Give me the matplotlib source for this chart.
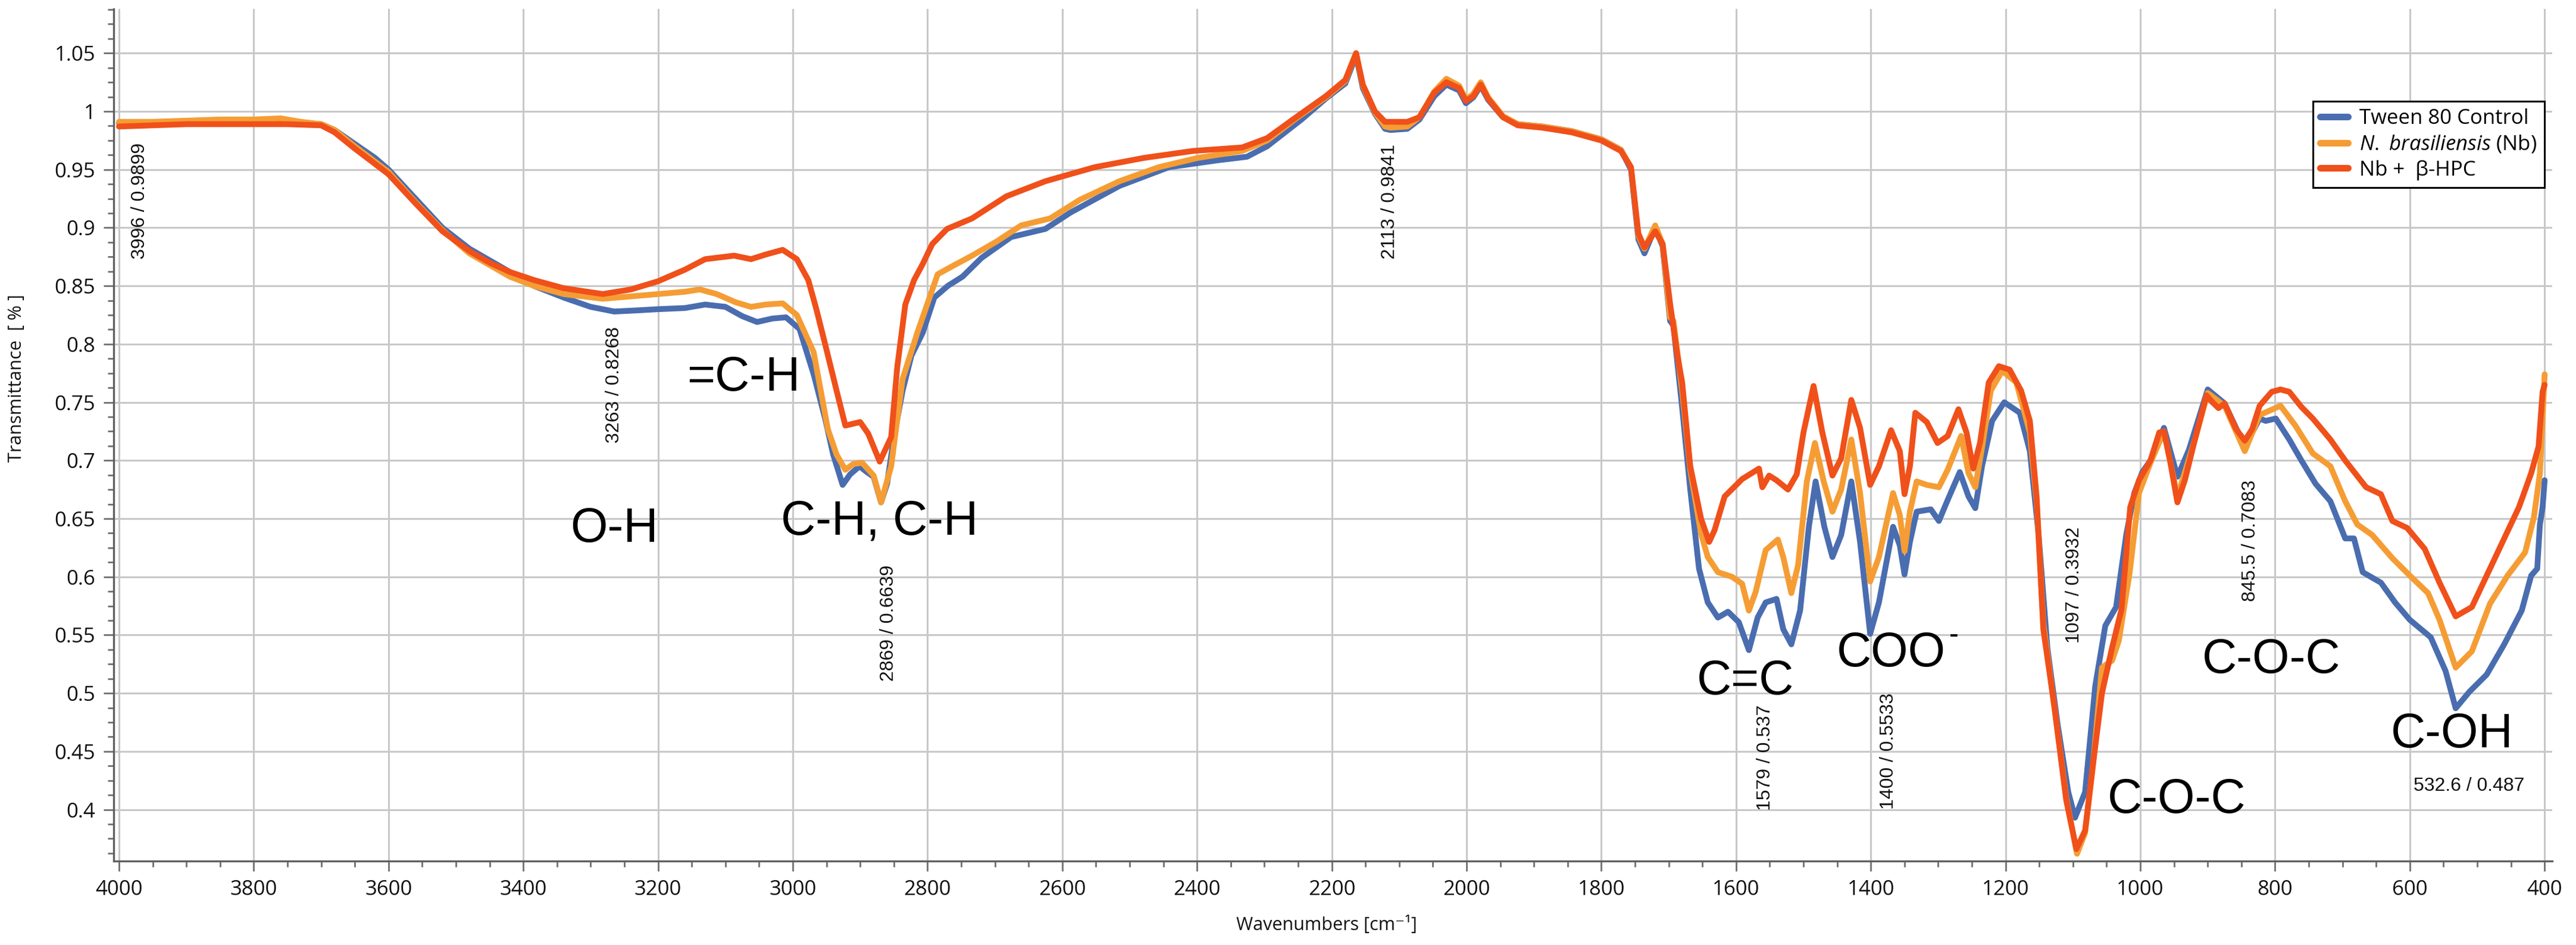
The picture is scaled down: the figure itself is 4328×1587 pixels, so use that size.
import matplotlib
matplotlib.use("Agg")
import matplotlib.pyplot as plt
from matplotlib.ticker import MultipleLocator, FuncFormatter

plt.rcParams['font.family'] = ['Open Sans', 'DejaVu Sans']
plt.rcParams['mathtext.fontset'] = 'custom'
plt.rcParams['mathtext.rm'] = 'Open Sans'
plt.rcParams['mathtext.it'] = 'Open Sans:italic'

# --- data (wavenumber cm-1, transmittance) ---
wn_ctrl = [4000, 3950, 3900, 3850, 3800, 3750, 3700, 3680, 3650, 3620, 3600, 3560, 3520, 3480,
           3450, 3420, 3384, 3340, 3300, 3265, 3230, 3200, 3160, 3130, 3100, 3075, 3053, 3030,
           3010, 2990, 2969, 2952, 2940, 2926, 2915, 2901, 2890, 2880, 2869, 2860, 2850, 2837,
           2824, 2807, 2790, 2770, 2748, 2720, 2676, 2625, 2588, 2515, 2442, 2369, 2326, 2296,
           2245, 2209, 2180, 2164, 2154, 2136, 2121, 2113, 2088, 2070, 2048, 2030, 2011, 2001,
           1990, 1979, 1968, 1946, 1924, 1888, 1844, 1800, 1771, 1756, 1745, 1736, 1720, 1709,
           1698, 1693, 1680, 1668, 1655, 1642, 1627, 1612, 1596, 1581, 1568, 1556, 1540, 1530,
           1518, 1505, 1492, 1482, 1469, 1457, 1444, 1429, 1416, 1401, 1388, 1367, 1357, 1350,
           1342, 1332, 1311, 1299, 1286, 1268, 1255, 1245, 1235, 1220, 1202, 1179, 1164, 1151,
           1138, 1123, 1107, 1097, 1082, 1067, 1052, 1036, 1021, 1009, 997, 985, 965, 945, 928,
           900, 875, 845, 823, 814, 799, 779, 761, 740, 718, 696, 683, 670, 643, 622, 600, 569,
           547, 532, 512, 486, 460, 434, 420, 411, 407, 403, 400]
t_ctrl = [0.990, 0.990, 0.991, 0.992, 0.992, 0.991, 0.989, 0.984, 0.972, 0.960, 0.950, 0.925,
          0.900, 0.882, 0.872, 0.862, 0.850, 0.840, 0.832, 0.828, 0.829, 0.830, 0.831, 0.834,
          0.832, 0.824, 0.819, 0.822, 0.823, 0.813, 0.774, 0.736, 0.705, 0.679, 0.688, 0.695,
          0.690, 0.686, 0.664, 0.680, 0.720, 0.760, 0.790, 0.810, 0.840, 0.850, 0.858, 0.874,
          0.892, 0.899, 0.913, 0.936, 0.952, 0.958, 0.961, 0.970, 0.993, 1.011, 1.024, 1.048,
          1.020, 0.998, 0.985, 0.984, 0.985, 0.993, 1.013, 1.023, 1.018, 1.007, 1.012, 1.022,
          1.010, 0.995, 0.989, 0.987, 0.983, 0.976, 0.967, 0.950, 0.890, 0.878, 0.900, 0.884,
          0.820, 0.816, 0.745, 0.675, 0.607, 0.578, 0.565, 0.570, 0.561, 0.537, 0.565, 0.578,
          0.581, 0.555, 0.542, 0.571, 0.643, 0.682, 0.643, 0.617, 0.636, 0.682, 0.630, 0.551,
          0.578, 0.643, 0.627, 0.602, 0.630, 0.656, 0.658, 0.648, 0.666, 0.690, 0.669, 0.659,
          0.695, 0.734, 0.750, 0.741, 0.708, 0.636, 0.539, 0.474, 0.415, 0.393, 0.415, 0.506,
          0.558, 0.574, 0.636, 0.672, 0.690, 0.700, 0.728, 0.686, 0.709, 0.761, 0.749, 0.712,
          0.736, 0.734, 0.736, 0.718, 0.700, 0.680, 0.665, 0.633, 0.633, 0.604, 0.595, 0.578,
          0.563, 0.548, 0.519, 0.487, 0.501, 0.516, 0.542, 0.571, 0.601, 0.607, 0.645, 0.660,
          0.683]

wn_nb = [4000, 3950, 3900, 3850, 3800, 3760, 3730, 3700, 3680, 3650, 3600, 3560, 3520, 3480,
         3450, 3420, 3384, 3340, 3282, 3240, 3200, 3160, 3138, 3113, 3085, 3062, 3040, 3015,
         2994, 2969, 2948, 2935, 2922, 2910, 2897, 2880, 2869, 2854, 2837, 2815, 2800, 2785,
         2763, 2734, 2698, 2661, 2618, 2574, 2515, 2457, 2399, 2333, 2296, 2253, 2209, 2180,
         2164, 2154, 2136, 2121, 2113, 2088, 2070, 2048, 2030, 2011, 2001, 1990, 1979, 1968,
         1946, 1924, 1888, 1844, 1800, 1771, 1756, 1745, 1736, 1720, 1709, 1698, 1693, 1680,
         1668, 1652, 1642, 1627, 1606, 1591, 1581, 1571, 1556, 1538, 1530, 1518, 1508, 1495,
         1483, 1470, 1457, 1444, 1429, 1416, 1401, 1388, 1367, 1357, 1350, 1342, 1332, 1317,
         1299, 1286, 1266, 1255, 1245, 1235, 1222, 1205, 1184, 1164, 1154, 1144, 1128, 1110,
         1094, 1082, 1070, 1057, 1042, 1032, 1016, 1002, 985, 965, 945, 919, 900, 875, 845, 823,
         792, 770, 744, 718, 696, 678, 656, 626, 600, 573, 556, 532, 508, 481, 455, 429, 416,
         407, 400]
t_nb = [0.991, 0.991, 0.992, 0.993, 0.993, 0.994, 0.991, 0.989, 0.984, 0.970, 0.948, 0.922,
        0.898, 0.878, 0.868, 0.858, 0.850, 0.843, 0.839, 0.841, 0.843, 0.845, 0.847, 0.843,
        0.836, 0.832, 0.834, 0.835, 0.825, 0.793, 0.727, 0.705, 0.692, 0.697, 0.698, 0.687,
        0.664, 0.695, 0.770, 0.810, 0.835, 0.860, 0.867, 0.876, 0.888, 0.902, 0.908, 0.924,
        0.940, 0.952, 0.960, 0.966, 0.975, 0.994, 1.012, 1.026, 1.050, 1.022, 0.999, 0.987,
        0.986, 0.987, 0.995, 1.017, 1.028, 1.022, 1.010, 1.015, 1.025, 1.012, 0.996, 0.989,
        0.987, 0.983, 0.976, 0.967, 0.952, 0.893, 0.882, 0.902, 0.886, 0.823, 0.820, 0.760,
        0.692, 0.637, 0.617, 0.604, 0.600, 0.594, 0.571, 0.587, 0.623, 0.632, 0.617, 0.586,
        0.610, 0.682, 0.715, 0.682, 0.656, 0.675, 0.718, 0.672, 0.596, 0.617, 0.672, 0.653,
        0.622, 0.656, 0.682, 0.679, 0.677, 0.692, 0.721, 0.689, 0.677, 0.711, 0.760, 0.777,
        0.767, 0.724, 0.665, 0.560, 0.490, 0.410, 0.362, 0.380, 0.440, 0.522, 0.528, 0.545,
        0.603, 0.672, 0.698, 0.725, 0.669, 0.718, 0.758, 0.747, 0.708, 0.739, 0.747, 0.730,
        0.706, 0.695, 0.665, 0.645, 0.636, 0.616, 0.601, 0.586, 0.563, 0.522, 0.536, 0.577,
        0.601, 0.621, 0.651, 0.689, 0.774]

wn_hpc = [4000, 3950, 3900, 3850, 3800, 3750, 3700, 3680, 3650, 3600, 3560, 3520, 3480, 3450,
          3420, 3384, 3340, 3282, 3240, 3200, 3160, 3130, 3087, 3062, 3040, 3015, 2994, 2977,
          2965, 2952, 2935, 2922, 2900, 2888, 2871, 2854, 2845, 2833, 2820, 2807, 2793, 2771,
          2734, 2683, 2625, 2552, 2479, 2406, 2333, 2296, 2253, 2209, 2180, 2164, 2154, 2136,
          2121, 2088, 2070, 2048, 2030, 2011, 2001, 1990, 1979, 1968, 1946, 1924, 1888, 1844,
          1800, 1771, 1756, 1745, 1736, 1720, 1709, 1698, 1687, 1680, 1668, 1652, 1640, 1632,
          1617, 1591, 1566, 1561, 1551, 1540, 1523, 1510, 1500, 1485, 1472, 1457, 1444, 1429,
          1416, 1401, 1388, 1370, 1357, 1350, 1342, 1334, 1317, 1301, 1286, 1270, 1258, 1248,
          1238, 1225, 1210, 1194, 1177, 1164, 1154, 1144, 1128, 1110, 1095, 1082, 1070, 1057,
          1042, 1028, 1015, 1002, 985, 972, 965, 956, 945, 934, 919, 902, 893, 884, 875, 858,
          845, 834, 823, 805, 792, 779, 761, 744, 718, 696, 665, 643, 626, 604, 578, 556, 532,
          508, 486, 460, 438, 420, 409, 403, 400]
t_hpc = [0.987, 0.988, 0.989, 0.989, 0.989, 0.989, 0.988, 0.982, 0.968, 0.946, 0.921, 0.897,
         0.880, 0.870, 0.862, 0.855, 0.848, 0.843, 0.847, 0.854, 0.864, 0.873, 0.876, 0.873,
         0.877, 0.881, 0.873, 0.855, 0.830, 0.800, 0.760, 0.730, 0.733, 0.723, 0.699, 0.720,
         0.780, 0.834, 0.855, 0.869, 0.886, 0.899, 0.908, 0.927, 0.940, 0.952, 0.960, 0.966,
         0.969, 0.977, 0.995, 1.013, 1.027, 1.050, 1.023, 1.000, 0.991, 0.991, 0.995, 1.016,
         1.025, 1.020, 1.009, 1.013, 1.023, 1.011, 0.995, 0.988, 0.986, 0.982, 0.975, 0.966,
         0.952, 0.895, 0.883, 0.897, 0.886, 0.835, 0.790, 0.767, 0.695, 0.650, 0.630, 0.640,
         0.669, 0.684, 0.693, 0.677, 0.687, 0.683, 0.675, 0.688, 0.724, 0.764, 0.724, 0.687,
         0.702, 0.752, 0.728, 0.679, 0.695, 0.726, 0.708, 0.671, 0.695, 0.741, 0.733, 0.715,
         0.721, 0.744, 0.724, 0.693, 0.715, 0.767, 0.781, 0.778, 0.760, 0.734, 0.669, 0.555,
         0.490, 0.408, 0.366, 0.382, 0.440, 0.500, 0.539, 0.572, 0.660, 0.683, 0.700, 0.724,
         0.725, 0.700, 0.664, 0.683, 0.718, 0.756, 0.750, 0.745, 0.749, 0.727, 0.717, 0.727,
         0.747, 0.759, 0.761, 0.759, 0.746, 0.736, 0.718, 0.700, 0.677, 0.671, 0.648, 0.642,
         0.624, 0.595, 0.566, 0.574, 0.601, 0.633, 0.660, 0.689, 0.712, 0.759, 0.765]

series_names = ['Tween 80 Control', r'$\it{N.\ brasiliensis}$ (Nb)', 'Nb +  β-HPC']
series_colors = ['#4a6db0', '#f59d34', '#f0501a']

# peak readouts (text, wavenumber, transmittance where the text starts)
peak_texts = ['3996 / 0.9899', '3263 / 0.8268', '2869 / 0.6639', '2113 / 0.9841',
              '1579 / 0.537', '1400 / 0.5533', '1097 / 0.3932', '845.5 / 0.7083']
peak_x = [3969, 3265, 2858, 2114, 1557, 1374, 1098, 837]
peak_y = [0.973, 0.815, 0.610, 0.972, 0.490, 0.500, 0.643, 0.683]

# band assignments
band_texts = ['O-H', '=C-H', 'C-H, C-H', 'C=C', 'COO', 'C-O-C', 'C-O-C', 'C-OH']
band_x = [3265, 3073, 2871, 1586, 1370, 946, 806, 537]
band_y = [0.641, 0.771, 0.647, 0.510, 0.534, 0.408, 0.528, 0.464]

fig = plt.figure(figsize=(43.28, 15.87), dpi=100)
ax = fig.add_axes([0.0441, 0.0888, 0.9466, 0.9017])

for wn, t, name, col in zip([wn_ctrl, wn_nb, wn_hpc], [t_ctrl, t_nb, t_hpc],
                            series_names, series_colors):
    ax.plot(wn, t, color=col, lw=7, label=name, solid_joinstyle='round',
            solid_capstyle='round', zorder=3)

ax.set_xlim(4008, 389)
ax.set_ylim(0.3557, 1.088)

ax.xaxis.set_major_locator(MultipleLocator(200))
ax.xaxis.set_minor_locator(MultipleLocator(50))
ax.yaxis.set_major_locator(MultipleLocator(0.05))
ax.yaxis.set_minor_locator(MultipleLocator(0.0125))
ax.yaxis.set_major_formatter(FuncFormatter(lambda v, p: f'{round(v, 3):g}'))
ax.xaxis.set_major_formatter(FuncFormatter(lambda v, p: f'{v:.0f}'))

ax.grid(True, which='major', color='#c8c8c8', lw=2.2, zorder=0)
ax.set_axisbelow(True)
for s in ['top', 'right']:
    ax.spines[s].set_visible(False)
for s in ['left', 'bottom']:
    ax.spines[s].set_color('#606060')
    ax.spines[s].set_linewidth(2.4)
ax.tick_params(which='major', length=12, width=2, color='#707070', labelsize=25,
               pad=10, labelcolor='#111111')
ax.tick_params(which='minor', length=7, width=2, color='#707070')

fig.text(0.0065, 0.60, 'Transmittance  [ % ]', rotation=90, ha='center', va='center',
         fontsize=22, color='#111111')
fig.text(0.515, 0.021, 'Wavenumbers [cm⁻¹]', ha='center', va='center', fontsize=22,
         color='#111111')

for txt, x, y in zip(peak_texts, peak_x, peak_y):
    ax.text(x, y, txt, rotation=90, ha='center', va='top', fontsize=23,
            family='Liberation Sans', color='#111111', zorder=4)
ax.text(512, 0.42, '532.6 / 0.487', ha='center', va='center', fontsize=23,
        family='Liberation Sans', color='#111111', zorder=4)

for txt, x, y in zip(band_texts, band_x, band_y):
    ax.text(x, y, txt, ha='center', va='center', fontsize=58,
            family='Liberation Sans', color='black', zorder=4)
ax.text(1284, 0.549, '-', ha='left', va='center', fontsize=34,
        family='Liberation Sans', color='black', zorder=4)

leg = ax.legend(loc='upper right', bbox_to_anchor=(0.9968, 0.8917), fontsize=25,
                frameon=True, fancybox=False, framealpha=1, edgecolor='black',
                handlelength=1.35, handletextpad=0.55, labelspacing=0.25,
                borderpad=0.35, borderaxespad=0)
leg.get_frame().set_linewidth(2.2)
for line in leg.get_lines():
    line.set_linewidth(8)
    line.set_solid_capstyle('round')

fig.savefig('out.png', dpi=100)
